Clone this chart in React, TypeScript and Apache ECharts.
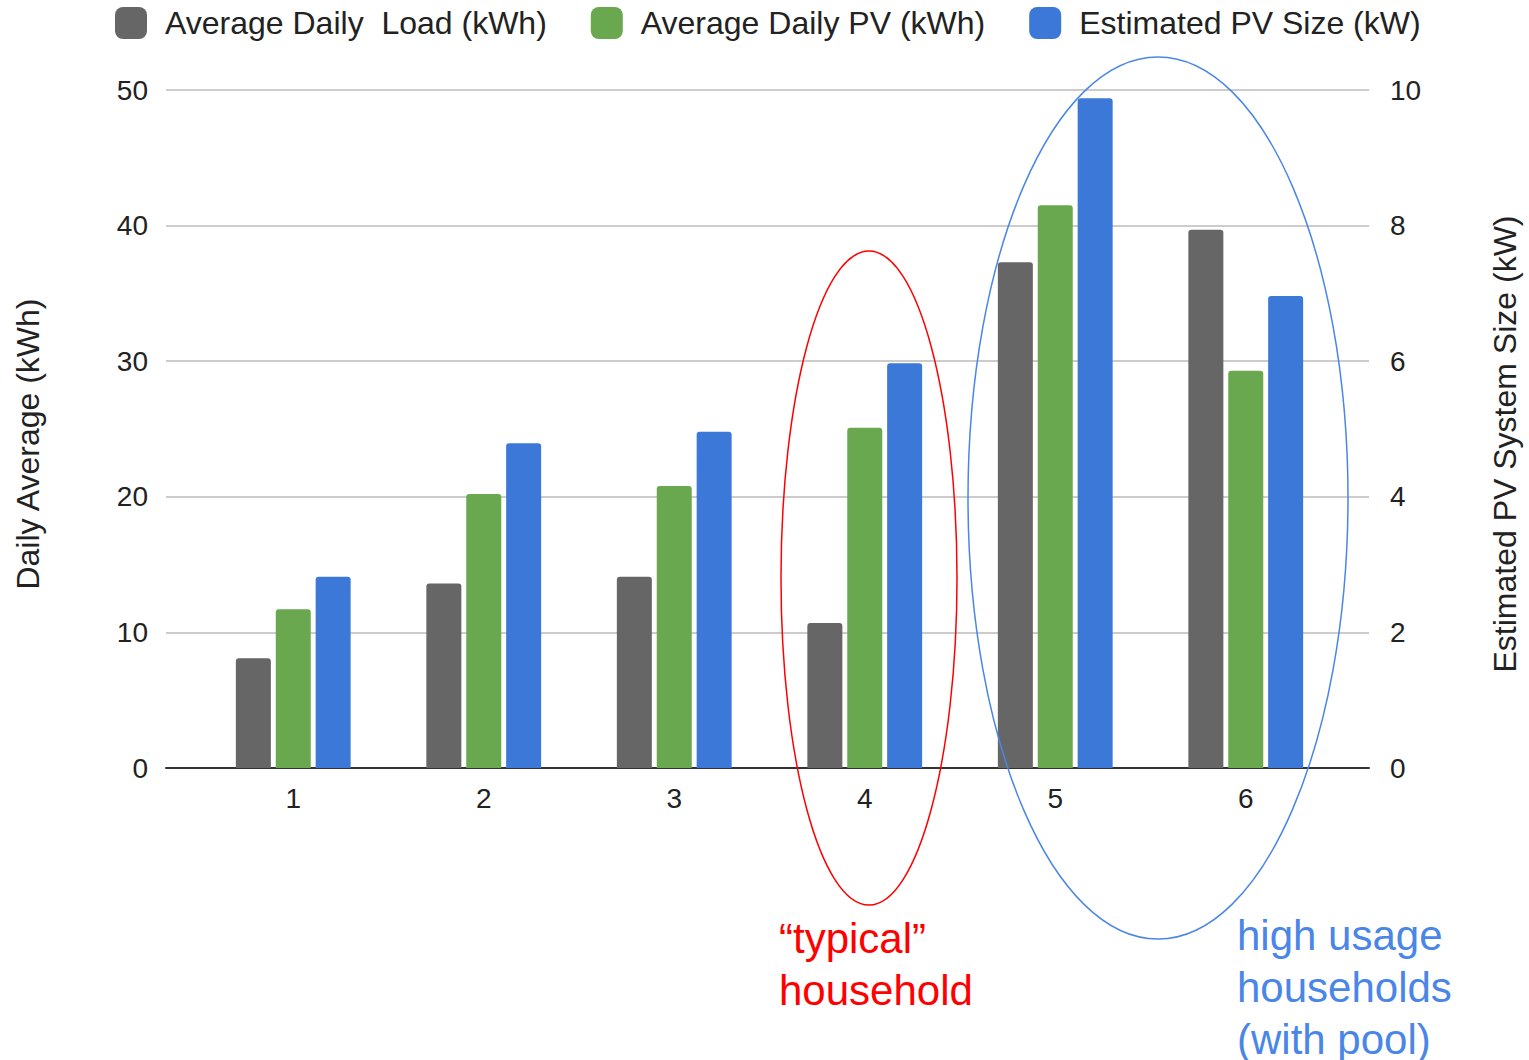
import React, { useEffect, useRef } from "react";
import * as echarts from "echarts";

const categories = ["1", "2", "3", "4", "5", "6"];
const avgDailyLoad = [8.1, 13.6, 14.1, 10.7, 37.3, 39.7];
const avgDailyPV = [11.7, 20.2, 20.8, 25.1, 41.5, 29.3];
const pvSizeKW = [2.82, 4.79, 4.96, 5.97, 9.88, 6.96];
const seriesNames = ["Average Daily  Load (kWh)", "Average Daily PV (kWh)", "Estimated PV Size (kW)"];
const leftAxisName = "Daily Average (kWh)";
const rightAxisName = "Estimated PV System Size (kW)";
const typicalLabel = "\u201ctypical\u201d\nhousehold";
const highUsageLabel = "high usage\nhouseholds\n(with pool)";

const FONT = "Liberation Sans, Arial, sans-serif";

export default function App() {
  const ref = useRef<HTMLDivElement>(null);
  useEffect(() => {
    if (!ref.current) return;
    const chart = echarts.init(ref.current, null, { renderer: "svg" });
    const barCommon = {
      type: "bar",
      xAxisIndex: 1,
      barWidth: 35,
      barGap: "14%",
    };
    const radius = [3, 3, 0, 0];
    const tickLabel = { fontSize: 28, color: "#222", fontFamily: FONT };
    const nameStyle = { fontSize: 32, color: "#222", fontFamily: FONT, padding: [0, 30, 0, 0] };
    chart.setOption({
      animation: false,
      textStyle: { fontFamily: FONT },
      legend: {
        top: 2,
        left: 110,
        itemWidth: 32,
        itemHeight: 32,
        itemGap: 44,
        icon: "roundRect",
        textStyle: { fontSize: 32, lineHeight: 32, color: "#222", fontFamily: FONT, padding: [0, 0, 0, 13] },
        data: seriesNames,
      },
      grid: [
        { left: 166, right: 158, top: 90, bottom: 292, containLabel: false },
        { left: 198, right: 188, top: 90, bottom: 292, containLabel: false },
      ],
      xAxis: [
        {
          gridIndex: 0,
          type: "value",
          min: 0,
          max: 1,
          axisLine: { show: true, onZero: false, lineStyle: { color: "#333", width: 2 } },
          axisTick: { show: false },
          axisLabel: { show: false },
          splitLine: { show: false },
        },
        {
          gridIndex: 1,
          type: "category",
          data: categories,
          axisLine: { show: false },
          axisTick: { show: false },
          axisLabel: { ...tickLabel, margin: 16 },
        },
      ],
      yAxis: [
        {
          gridIndex: 0,
          type: "value",
          min: 0,
          max: 50,
          interval: 10,
          name: leftAxisName,
          nameLocation: "middle",
          nameRotate: 90,
          nameGap: 122,
          nameTextStyle: nameStyle,
          axisLine: { show: false },
          axisTick: { show: false },
          axisLabel: { ...tickLabel, margin: 18 },
          splitLine: { lineStyle: { color: "#cccccc", width: 2 } },
        },
        {
          gridIndex: 0,
          type: "value",
          min: 0,
          max: 10,
          interval: 2,
          position: "right",
          name: rightAxisName,
          nameLocation: "middle",
          nameRotate: 90,
          nameGap: 120,
          nameTextStyle: nameStyle,
          axisLine: { show: false },
          axisTick: { show: false },
          axisLabel: { ...tickLabel, margin: 21 },
          splitLine: { show: false },
        },
        {
          gridIndex: 1,
          type: "value",
          min: 0,
          max: 50,
          interval: 10,
          show: false,
          splitLine: { show: false },
        },
        {
          gridIndex: 1,
          type: "value",
          min: 0,
          max: 10,
          interval: 2,
          position: "right",
          show: false,
          splitLine: { show: false },
        },
      ],
      series: [
        { ...barCommon, name: seriesNames[0], yAxisIndex: 2, data: avgDailyLoad, itemStyle: { borderRadius: radius, color: "#666666" } },
        { ...barCommon, name: seriesNames[1], yAxisIndex: 2, data: avgDailyPV, itemStyle: { borderRadius: radius, color: "#6aa84f" } },
        { ...barCommon, name: seriesNames[2], yAxisIndex: 3, data: pvSizeKW, itemStyle: { borderRadius: radius, color: "#3c78d8" } },
      ],
      graphic: [
        {
          type: "ellipse",
          z: 100,
          shape: { cx: 869, cy: 578, rx: 88, ry: 327 },
          style: { fill: "none", stroke: "#ff0000", lineWidth: 1.5 },
        },
        {
          type: "ellipse",
          z: 100,
          shape: { cx: 1158, cy: 498, rx: 190, ry: 441 },
          style: { fill: "none", stroke: "#4a86e8", lineWidth: 1.5 },
        },
        {
          type: "text",
          z: 100,
          left: 779,
          top: 912,
          style: { text: typicalLabel, fontSize: 42, lineHeight: 52, fill: "#ff0000", fontFamily: FONT },
        },
        {
          type: "text",
          z: 100,
          left: 1237,
          top: 909,
          style: { text: highUsageLabel, fontSize: 42, lineHeight: 52, fill: "#4a86e8", fontFamily: FONT },
        },
      ],
    });
    return () => chart.dispose();
  }, []);
  return <div ref={ref} style={{ position: "absolute", left: 0, top: 0, width: 1529, height: 1060 }} />;
}
